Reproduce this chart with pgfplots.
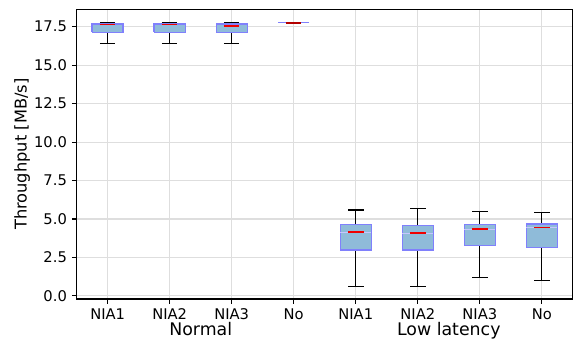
\documentclass[border=0pt]{standalone}
\usepackage{pgfplots}
\pgfplotsset{compat=1.18}
\usepackage{fontspec}
\setmainfont{DejaVu Sans}
\definecolor{boxfill}{RGB}{143,187,217}
\definecolor{boxedge}{RGB}{128,128,252}
\definecolor{medc}{RGB}{240,0,0}
\definecolor{gridc}{RGB}{222,222,222}
\pgfplotsset{
  whisk/.style={black, line width=0.9pt, mark=none, forget plot, unbounded coords=jump},
  bx/.style={fill=boxfill, draw=boxedge, line width=1pt, mark=none, forget plot, line join=miter},
  md/.style={medc, line width=1.2pt, mark=none, forget plot},
}
\begin{document}
\begin{tikzpicture}
\begin{axis}[
  scale only axis, width=357.3pt, height=208.6pt,
  xmin=0.5, xmax=8.5, ymin=-0.2, ymax=18.63,
  xtick={1,2,3,4,5,6,7,8},
  xticklabels={NIA1,NIA2,NIA3,No,NIA1,NIA2,NIA3,No},
  ytick={0,2.5,5,7.5,10,12.5,15,17.5},
  /pgf/number format/assume math mode=true,
  yticklabel style={/pgf/number format/.cd,fixed,fixed zerofill,precision=1},
  ticklabel style={font=\fontsize{10.6pt}{12pt}\selectfont},
  ylabel={Throughput [MB/s]},
  ylabel style={font=\fontsize{11.7pt}{13pt}\selectfont, at={(axis description cs:-0.11,0.5)}, anchor=center},
  grid=major, grid style={gridc, line width=0.8pt},
  tick align=outside, tick pos=left, major tick length=3.5pt,
  every tick/.style={black, line width=0.8pt},
  axis line style={line width=0.8pt},
  extra x ticks={2.5,6.5},
  extra x tick labels={Normal,Low latency},
  extra x tick style={major tick length=0pt, grid=none,
    tick label style={yshift=-13pt, font=\fontsize{12.5pt}{14pt}\selectfont}},
]
% whiskers and caps
\addplot[whisk] coordinates {(1,16.39) (1,17.13) (nan,nan) (1,17.67) (1,17.76) (nan,nan) (0.875,16.39) (1.125,16.39) (nan,nan) (0.875,17.76) (1.125,17.76)};
\addplot[whisk] coordinates {(2,16.39) (2,17.13) (nan,nan) (2,17.67) (2,17.76) (nan,nan) (1.875,16.39) (2.125,16.39) (nan,nan) (1.875,17.76) (2.125,17.76)};
\addplot[whisk] coordinates {(3,16.39) (3,17.13) (nan,nan) (3,17.67) (3,17.76) (nan,nan) (2.875,16.39) (3.125,16.39) (nan,nan) (2.875,17.76) (3.125,17.76)};
\addplot[whisk] coordinates {(5,0.63) (5,2.99) (nan,nan) (5,4.66) (5,5.59) (nan,nan) (4.875,0.63) (5.125,0.63) (nan,nan) (4.875,5.59) (5.125,5.59)};
\addplot[whisk] coordinates {(6,0.63) (6,2.99) (nan,nan) (6,4.59) (6,5.70) (nan,nan) (5.875,0.63) (6.125,0.63) (nan,nan) (5.875,5.70) (6.125,5.70)};
\addplot[whisk] coordinates {(7,1.21) (7,3.27) (nan,nan) (7,4.66) (7,5.50) (nan,nan) (6.875,1.21) (7.125,1.21) (nan,nan) (6.875,5.50) (7.125,5.50)};
\addplot[whisk] coordinates {(8,0.99) (8,3.16) (nan,nan) (8,4.68) (8,5.41) (nan,nan) (7.875,0.99) (8.125,0.99) (nan,nan) (7.875,5.41) (8.125,5.41)};
% boxes (lower quartile to upper quartile)
\addplot[bx] coordinates {(0.75,17.13) (1.25,17.13) (1.25,17.67) (0.75,17.67) (0.75,17.13)};
\addplot[bx] coordinates {(1.75,17.13) (2.25,17.13) (2.25,17.67) (1.75,17.67) (1.75,17.13)};
\addplot[bx] coordinates {(2.75,17.13) (3.25,17.13) (3.25,17.67) (2.75,17.67) (2.75,17.13)};
\addplot[bx] coordinates {(3.75,17.76) (4.25,17.76)};
\addplot[bx] coordinates {(4.75,2.99) (5.25,2.99) (5.25,4.66) (4.75,4.66) (4.75,2.99)};
\addplot[bx] coordinates {(5.75,2.99) (6.25,2.99) (6.25,4.59) (5.75,4.59) (5.75,2.99)};
\addplot[bx] coordinates {(6.75,3.27) (7.25,3.27) (7.25,4.66) (6.75,4.66) (6.75,3.27)};
\addplot[bx] coordinates {(7.75,3.16) (8.25,3.16) (8.25,4.68) (7.75,4.68) (7.75,3.16)};
% notch gap lines at the median
\addplot[white!55!boxedge, line width=0.6pt, forget plot] coordinates {(4.75,4.14) (5.25,4.14)};
\addplot[white!55!boxedge, line width=0.6pt, forget plot] coordinates {(5.75,4.07) (6.25,4.07)};
\addplot[white!55!boxedge, line width=0.6pt, forget plot] coordinates {(6.75,4.33) (7.25,4.33)};
\addplot[white!55!boxedge, line width=0.6pt, forget plot] coordinates {(7.75,4.44) (8.25,4.44)};
% medians
\addplot[md] coordinates {(0.875,17.65) (1.125,17.65)};
\addplot[md] coordinates {(1.875,17.65) (2.125,17.65)};
\addplot[md] coordinates {(2.875,17.56) (3.125,17.56)};
\addplot[md, medc!75!black] coordinates {(3.875,17.76) (4.125,17.76)};
\addplot[md] coordinates {(4.875,4.14) (5.125,4.14)};
\addplot[md] coordinates {(5.875,4.07) (6.125,4.07)};
\addplot[md] coordinates {(6.875,4.33) (7.125,4.33)};
\addplot[md] coordinates {(7.875,4.44) (8.125,4.44)};
\end{axis}
\path (current axis.south west) ++(-55.2pt,-30.2pt) rectangle ++(416.2pt,245.5pt);
\end{tikzpicture}
\end{document}
